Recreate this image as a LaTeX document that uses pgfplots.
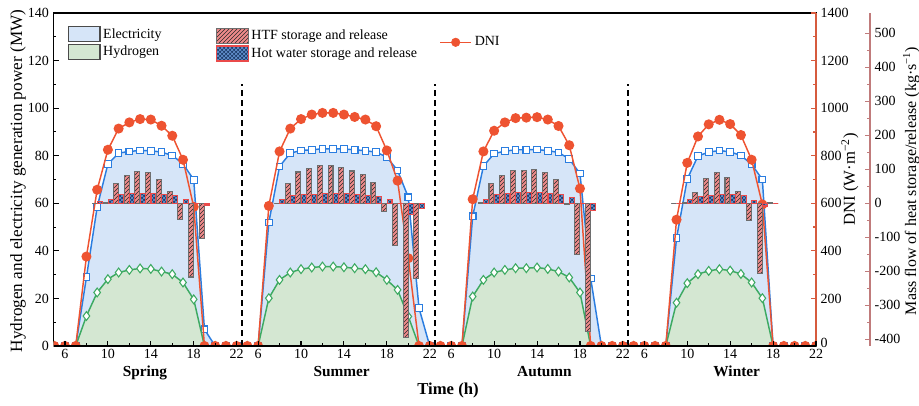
\documentclass[border=0pt]{standalone}
\usepackage{fontspec}
\setmainfont{Liberation Serif}
\usepackage{pgfplots}
\pgfplotsset{compat=1.18}
\usepackage{pgfplotstable}
\usetikzlibrary{patterns}

\definecolor{dnired}{HTML}{EE5331}
\definecolor{elecblue}{HTML}{2A7DE0}
\definecolor{elecfill}{HTML}{D6E5F8}
\definecolor{hgreen}{HTML}{3DAA62}
\definecolor{hfill}{HTML}{D4E7D2}
\definecolor{htffill}{HTML}{EE8A8A}
\definecolor{htfedge}{HTML}{6E6E6E}
\definecolor{htfhatch}{HTML}{2A2A2A}
\definecolor{hwfill}{HTML}{1F3F6E}
\definecolor{hwgrid}{HTML}{6A9AD8}
\definecolor{hwedge}{HTML}{EA4A4A}
\definecolor{dniaxis}{HTML}{D65B3E}
\definecolor{massaxis}{HTML}{C07B7B}
\definecolor{legedge}{HTML}{4A4A4A}

% s = season (0 spring ... 3 winter), h = hour; plotted at x = h + 18*s
\pgfplotstableread{
s h elec h2 dni
0 5 0 0 0
0 6 0 0 0
0 7 0 0 0
0 8 28.9 12.6 376
0 9 58.4 22.5 657
0 10 76.5 28.1 825
0 11 81.1 30.9 914
0 12 81.8 32.0 940
0 13 82.2 32.6 954
0 14 82.1 32.4 952
0 15 81.5 31.3 926
0 16 80.1 30.2 884
0 17 76.6 26.7 783
0 18 69.9 19.6 585
0 19 7.0 0 0
0 20 0 0 0
0 21 0 0 0
0 22 0 0 0
1 5 0 0 0
1 6 0 0 0
1 7 51.9 20.1 589
1 8 75.5 27.8 818
1 9 81.1 30.9 914
1 10 82.2 32.3 954
1 11 82.5 33.0 973
1 12 82.9 33.4 980
1 13 82.9 33.4 980
1 14 82.8 33.1 973
1 15 82.5 32.7 963
1 16 82.1 32.3 952
1 17 81.5 31.0 924
1 18 79.4 27.8 822
1 19 73.8 23.6 695
1 20 62.5 12.4 369
1 21 15.9 0 0
1 22 0 0 0
2 5 0 0 0
2 6 0 0 0
2 7 0 0 0
2 8 54.5 20.8 617
2 9 75.6 27.8 818
2 10 80.9 30.9 905
2 11 81.9 32.0 940
2 12 82.5 32.7 958
2 13 82.5 32.7 960
2 14 82.6 33.0 962
2 15 82.1 32.4 952
2 16 81.4 31.3 925
2 17 78.6 28.8 844
2 18 72.5 22.5 662
2 19 28.4 0 0
2 20 0 0 0
2 21 0 0 0
2 22 0 0 0
3 5 0 0 0
3 6 0 0 0
3 7 0 0 0
3 8 0 0 0
3 9 45.3 18.2 531
3 10 70.2 26.4 770
3 11 79.9 30.2 881
3 12 81.5 31.6 932
3 13 82.2 32.3 951
3 14 81.6 31.7 933
3 15 80.1 30.3 887
3 16 76.4 26.7 783
3 17 70.0 20.1 595
3 18 0 0 0
3 19 0 0 0
3 20 0 0 0
3 21 0 0 0
3 22 0 0 0
}\hourly

% mass flow of heat storage (+) / release (-), kg/s
\pgfplotstableread{
s h htf hw
0 9 0 4
0 10 2 10
0 11 59 26
0 12 82 28
0 13 93 28
0 14 90 28
0 15 69 27
0 16 34 23
0 17 -49 12
0 18 -217 0
0 19 -103 -5
1 8 0 10
1 9 57 23
1 10 92 26
1 11 102 27
1 12 110 28
1 13 110 28
1 14 105 28
1 15 95 26
1 16 86 24
1 17 62 20
1 18 -23 12
1 19 -125 0
1 20 -395 -34
1 21 -222 -15
2 9 2 12
2 10 57 27
2 11 83 30
2 12 96 31
2 13 97 31
2 14 100 32
2 15 91 30
2 16 69 27
2 17 -3 17
2 18 -150 0
2 19 -378 -20
3 9 0 0
3 10 2 10
3 11 32 20
3 12 74 22
3 13 90 27
3 14 77 27
3 15 34 22
3 16 -52 8
3 17 -206 -8
3 18 3 0
}\storage

\tikzset{legendcommon/.style={draw=none, fill=none, inner sep=0pt, row sep=1pt,
  nodes={inner xsep=2pt, inner ysep=0.5pt}, font=\fontsize{10.5}{12}\selectfont}}

\pgfplotsset{
  myframe/.style={
    width=571.875pt, height=249.75pt, scale only axis,
    at={(0pt,0pt)}, anchor=south west,
    xmin=4.93, xmax=76,
    tick label style={font=\fontsize{10.5}{12}\selectfont},
    /pgf/number format/assume math mode=true,
    /pgf/number format/1000 sep={},
    major tick length=4pt, minor tick length=2.2pt,
    legend cell align=left,
  },
}

\begin{document}
\begin{tikzpicture}
\useasboundingbox (-40.125pt,-45pt) rectangle (649.125pt,259.5pt);

% power: electricity and hydrogen
\begin{axis}[myframe,
  ymin=0, ymax=140, ytick={0,20,...,140}, minor y tick num=1,
  xtick=\empty, tick align=inside, ytick pos=left,
  axis line style={line width=1pt}, tick style={black, line width=0.8pt},
  clip marker paths=true,
  legend style={legendcommon, at={(axis description cs:0.0182,0.961)}, anchor=north west}]
\addlegendimage{legend image code/.code={\draw[fill=elecfill, draw=legedge, line width=0.9pt] (0pt,-5.6pt) rectangle (23.8pt,5.6pt);}}
\addlegendentry{Electricity}
\addlegendimage{legend image code/.code={\draw[fill=hfill, draw=legedge, line width=0.9pt] (0pt,-5.6pt) rectangle (23.8pt,5.6pt);}}
\addlegendentry{Hydrogen}
\addplot[fill=elecfill, draw=none, forget plot] table[x expr=\thisrow{h}+18*\thisrow{s}, y=elec] {\hourly} \closedcycle;
\addplot[fill=hfill, draw=none, forget plot] table[x expr=\thisrow{h}+18*\thisrow{s}, y=h2] {\hourly} \closedcycle;
\addplot[black, line width=1.6pt, dash pattern=on 4.5pt off 3pt, forget plot] coordinates {(22.5,0) (22.5,110)};
\addplot[black, line width=1.6pt, dash pattern=on 4.5pt off 3pt, forget plot] coordinates {(40.5,0) (40.5,110)};
\addplot[black, line width=1.6pt, dash pattern=on 4.5pt off 3pt, forget plot] coordinates {(58.5,0) (58.5,110)};
\addplot[elecblue, line width=1.1pt, mark=square*, mark size=2.5pt,
  mark options={fill=white, line width=0.8pt}, forget plot]
  table[x expr=\thisrow{h}+18*\thisrow{s}, y=elec] {\hourly};
\addplot[hgreen, line width=1.1pt, mark=diamond*, mark size=3.3pt,
  mark options={fill=white, line width=0.8pt}, forget plot]
  table[x expr=\thisrow{h}+18*\thisrow{s}, y=h2] {\hourly};
\end{axis}

% DNI
\begin{axis}[myframe,
  ymin=0, ymax=1400, ytick={200,400,...,1400}, minor y tick num=1,
  extra y ticks={0}, extra y tick style={yticklabel style={yshift=2.5pt}},
  axis x line=none, axis y line*=right, tick align=inside,
  y axis line style={dniaxis, line width=2.2pt}, tick style={dniaxis, line width=0.9pt},
  clip marker paths=true,
  legend style={legendcommon, at={(axis description cs:0.5056,0.912)}, anchor=west}]
\addlegendimage{legend image code/.code={\draw[dnired, line width=1.1pt] (0pt,0pt) -- (23.5pt,0pt); \fill[dnired] (11.75pt,0pt) circle (3.2pt);}}
\addlegendentry{DNI}
\addplot[dnired, line width=1.1pt, mark=*, mark size=3.2pt, forget plot]
  table[x expr=\thisrow{h}+18*\thisrow{s}, y=dni] {\hourly};
\end{axis}

% heat storage bars
\begin{axis}[myframe, ymin=-420, ymax=560, hide axis,
  legend style={legendcommon, at={(axis description cs:0.2126,0.956)}, anchor=north west}]
\addlegendimage{legend image code/.code={\draw[fill=htffill, draw=htfedge, line width=0.9pt, postaction={pattern=north east lines, pattern color=htfhatch}] (0pt,-5.6pt) rectangle (23.8pt,5.6pt);}}
\addlegendentry{HTF storage and release}
\addlegendimage{legend image code/.code={\draw[fill=hwfill, draw=hwedge, line width=0.9pt, postaction={pattern=crosshatch, pattern color=hwgrid}] (0pt,-5.6pt) rectangle (23.8pt,5.6pt);}}
\addlegendentry{Hot water storage and release}
\addplot[ybar, bar width=0.46, bar shift=0pt, fill=htffill, draw=htfedge, line width=0.8pt,
  postaction={pattern=north east lines, pattern color=htfhatch}, forget plot]
  table[x expr=\thisrow{h}+18*\thisrow{s}-0.25, y=htf] {\storage};
\addplot[ybar, bar width=0.46, bar shift=0pt, fill=hwfill, draw=hwedge, line width=0.8pt,
  postaction={pattern=crosshatch, pattern color=hwgrid}, forget plot]
  table[x expr=\thisrow{h}+18*\thisrow{s}+0.25, y=hw] {\storage};
\end{axis}

% mass flow axis, offset to the right
\begin{axis}[width=612.375pt, height=249.75pt, scale only axis,
  at={(0pt,0pt)}, anchor=south west,
  xmin=0, xmax=1, ymin=-420, ymax=560,
  axis x line=none, axis y line*=right, tick align=inside,
  ytick={-400,-300,...,500}, minor y tick num=1,
  major tick length=4pt, minor tick length=2.2pt,
  y axis line style={massaxis, line width=2.2pt}, tick style={massaxis, line width=0.9pt},
  tick label style={font=\fontsize{10.5}{12}\selectfont},
  /pgf/number format/assume math mode=true]
\end{axis}

% time axis
\begin{axis}[myframe, ymin=0, ymax=140,
  axis y line=none, axis x line*=bottom, tick align=inside,
  x axis line style={line width=1pt}, tick style={black, line width=0.8pt},
  xtick={6,10,14,18,22,24,28,32,36,40,42,46,50,54,58,60,64,68,72,76},
  xticklabels={6,10,14,18,22,6,10,14,18,22,6,10,14,18,22,6,10,14,18,22},
  minor xtick={8,12,16,20,26,30,34,38,44,48,52,56,62,66,70,74},
  xticklabel style={inner ysep=2pt}]
\end{axis}

\node[rotate=90, anchor=base, font=\fontsize{12.9}{14}\selectfont] at (-23.6pt,123.75pt)
  {Hydrogen and electricity generation power (MW)};
\node[rotate=90, anchor=base, font=\fontsize{12.5}{14}\selectfont] at (601.1pt,124.9pt)
  {DNI (W·m\textsuperscript{−2})};
\node[rotate=90, anchor=base, font=\fontsize{12}{14}\selectfont] at (646.9pt,123.75pt)
  {Mass flow of heat storage/release (kg·s\textsuperscript{−1})};

\begin{scope}[font=\bfseries\fontsize{11.5}{13}\selectfont]
\node[anchor=base] at (68.6pt,-23pt) {Spring};
\node[anchor=base] at (216.1pt,-23pt) {Summer};
\node[anchor=base] at (368.25pt,-23pt) {Autumn};
\node[anchor=base] at (512.4pt,-23pt) {Winter};
\end{scope}
\node[anchor=base, font=\bfseries\fontsize{12.5}{14}\selectfont] at (295.9pt,-36.4pt) {Time (h)};
\end{tikzpicture}
\end{document}
